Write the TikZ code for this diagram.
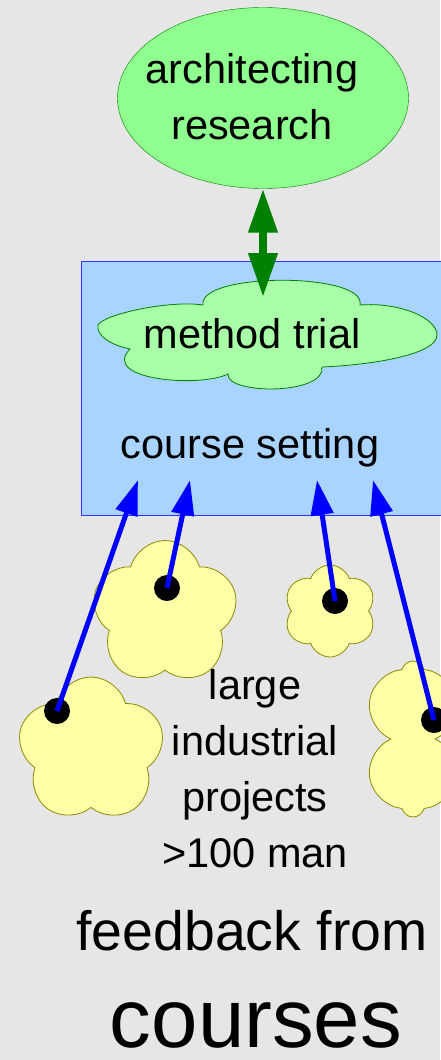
\documentclass[tikz,border=0pt]{standalone}
\usepackage{fontspec}
\setmainfont{Liberation Sans}
\usetikzlibrary{shapes.geometric,shapes.symbols,arrows.meta}
\definecolor{backgr}{HTML}{E6E6E6}
\definecolor{lgreen}{HTML}{8FFF8F}
\definecolor{pgreen}{HTML}{A8FFA8}
\definecolor{dgreen}{HTML}{008000}
\definecolor{lblue}{HTML}{A8D4FF}
\definecolor{lyellow}{HTML}{FFFFA8}
\definecolor{dyellow}{HTML}{8C8C00}
\def\fs{\fontsize{41.5}{56}\selectfont}
\def\r{13pt}

\begin{document}
\begin{tikzpicture}[x=1pt,y=-1pt,font=\fs,
  proj/.style={cloud,cloud puffs=5,cloud puff arc=150,cloud ignores aspect,
    draw=dyellow,fill=lyellow,line width=0.8pt,inner sep=0pt},
  flow/.style={blue,line width=5pt,-{Triangle[length=35pt,width=22pt]}}]
\fill[backgr] (0,0) rectangle (440,1060);
\useasboundingbox (0,0) rectangle (440,1060);

% research on top
\node[ellipse,draw=dgreen,fill=lgreen,minimum width=291pt,minimum height=181pt] (arch) at (263,98) {};
\node[align=center,inner sep=0pt] (archtext) at (252,97) {architecting\\research};

% course box with the trial inside
\node[draw=blue!80,fill=lblue,anchor=north west,minimum width=400pt,minimum height=254pt] (course) at (81,261) {};
\filldraw[draw=dgreen,fill=pgreen,line width=0.8pt]
  (98,325) .. controls (104,314) and (170,300) .. (203,305)
  .. controls (198,272) and (367,272) .. (360,305)
  .. controls (400,302) and (437,318) .. (437,335)
  .. controls (437,355) and (370,365) .. (322,367)
  .. controls (326,395) and (226,395) .. (228,374)
  .. controls (200,388) and (100,380) .. (130,349)
  .. controls (110,345) and (96,335) .. (98,325) -- cycle;
\node[anchor=base,inner sep=0pt] (trial) at (252,348) {method trial};
\node[anchor=base,inner sep=0pt] (setting) at (250,458) {course setting};
\coordinate (in) at (263,297);
\draw[dgreen,line width=7.5pt,{Triangle[length=44pt,width=28pt]}-{Triangle[length=44pt,width=28pt]}] (arch.south) -- (in);

% projects
\node[proj,shape border rotate=10,minimum width=146pt,minimum height=145pt] (p1) at (165,613) {};
\node[proj,cloud puffs=6,cloud puff arc=140,minimum width=93pt,minimum height=92pt] (p2) at (330,611) {};
\node[proj,shape border rotate=-15,minimum width=147pt,minimum height=146pt] (p3) at (91,750) {};
\node[proj,cloud puffs=6,shape border rotate=30,minimum width=100pt,minimum height=156pt] (p4) at (413,739) {};

\foreach \n/\p in {d1/{(57,711)}, d2/{(167,588)}, d3/{(335,601)}, d4/{(434,720)}}
  \node[circle,fill=black,minimum size=2*\r,inner sep=0pt] (\n) at \p {};

\foreach \n/\x in {1/138, 2/190, 3/317, 4/373}{
  \coordinate (t\n) at (\x,480);
  \draw[flow] (d\n.center) -- (t\n);
}

\node[align=center,inner sep=0pt] (large) at (255,769) {large\\industrial\\projects\\>100 man};
\node[anchor=base,inner sep=0pt,font=\fontsize{55.4}{60}\selectfont] (feedback) at (252,950) {feedback from};
\node[anchor=base,inner sep=0pt,font=\fontsize{83.4}{90}\selectfont] (courses) at (256,1047) {courses};
\end{tikzpicture}
\end{document}
